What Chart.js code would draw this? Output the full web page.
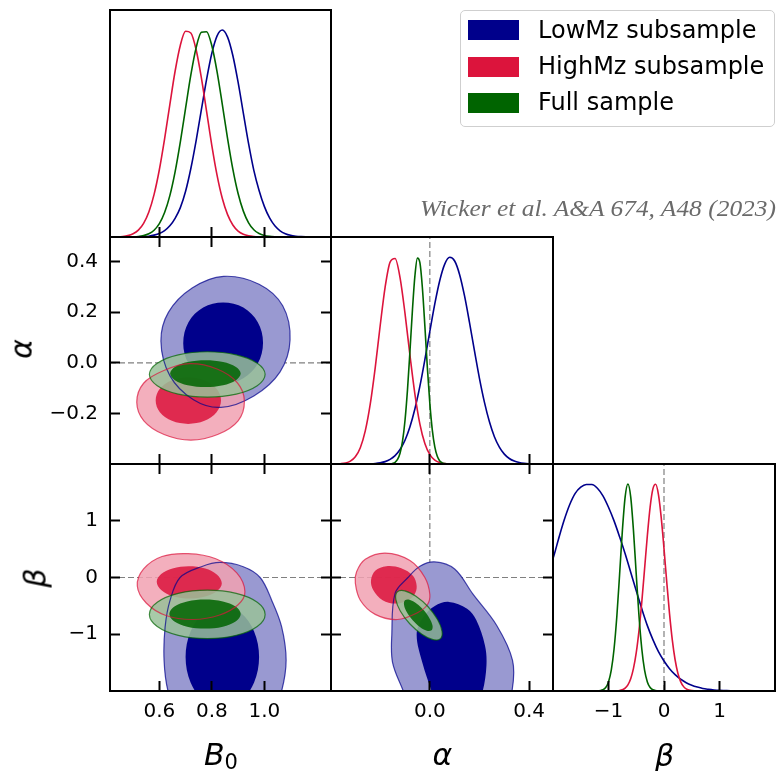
<!DOCTYPE html>
<html>
<head>
<meta charset="utf-8">
<title>B0, alpha, beta posteriors</title>
<script src="https://cdn.jsdelivr.net/npm/chart.js@4.4.1/dist/chart.umd.min.js"></script>
<style>
  html, body { margin: 0; padding: 0; background: #fff; }
  #figure { position: relative; width: 779px; height: 771px; overflow: hidden; font-family: "DejaVu Sans", sans-serif; }
  #figure canvas { position: absolute; left: 0; top: 0; }
  .xlab { position: absolute; font: italic 30px/30px "DejaVu Sans"; white-space: nowrap; transform: translateX(-50%); color: #000; }
  .ylab { position: absolute; font: italic 30px/30px "DejaVu Sans"; white-space: nowrap; transform-origin: 0 0; transform: rotate(-90deg) translate(-50%, -25.4px); color: #000; }
  .sub { font-style: normal; font-size: 21px; position: relative; top: 4px; }
  #legend { position: absolute; left: 460px; top: 10px; width: 315px; height: 117px; box-sizing: border-box; border: 1.5px solid #cfcfcf; border-radius: 5px; background: rgba(255,255,255,0.8); }
  .swatch { position: absolute; left: 7px; width: 51px; height: 20px; }
  .entry { position: absolute; left: 77px; font: 24px/24px "DejaVu Sans"; white-space: nowrap; color: #000; }
  #credit { position: absolute; left: 420px; top: 196px; font: italic 24px/24px "Liberation Serif", serif; color: #6a6a6a; white-space: nowrap; transform-origin: 0 0; }
</style>
</head>
<body>
<div id="figure">
  <div class="xlab" style="left:221px; top:739.6px;">B<span class="sub">0</span></div>
  <div class="xlab" style="left:442.5px; top:739.6px;">α</div>
  <div class="xlab" style="left:664.5px; top:740.6px;">β</div>
  <div class="ylab" style="left:31.5px; top:349px;">α</div>
  <div class="ylab" style="left:46px; top:577.5px;">β</div>
  <div id="legend"></div>
  <div id="credit">Wicker et al. A&amp;A 674, A48 (2023)</div>
</div>
<script>
// ---------------- series names ----------------
const seriesNames = ['LowMz subsample', 'HighMz subsample', 'Full sample'];

// ---------------- tick values ----------------
const b0Ticks = [0.6, 0.8, 1.0];
const alphaTicksX = [0.0, 0.4];
const alphaTicksY = [-0.2, 0.0, 0.2, 0.4];
const betaTicks = [-1, 0, 1];

// ---------------- 1D marginals (peak-normalised densities) ----------------
const b0Grid = [
  0.40, 0.42, 0.44, 0.46, 0.48, 0.50, 0.52, 0.54, 0.56, 0.58, 0.60,
  0.62, 0.64, 0.66, 0.68, 0.70, 0.72, 0.74, 0.76, 0.78, 0.80, 0.82,
  0.84, 0.86, 0.88, 0.90, 0.92, 0.94, 0.96, 0.98, 1.00, 1.02, 1.04,
  1.06, 1.08, 1.10, 1.12, 1.14, 1.16, 1.18, 1.20, 1.22, 1.24, 1.26];
const b0Low = [
  0, 0, 0, 0, 0.0002, 0.0005, 0.001, 0.002, 0.004, 0.009, 0.017,
  0.031, 0.054, 0.09, 0.142, 0.221, 0.331, 0.465, 0.614, 0.762, 0.888, 0.972,
  1.0, 0.966, 0.877, 0.748, 0.599, 0.451, 0.322, 0.225, 0.148, 0.092, 0.054,
  0.030, 0.016, 0.008, 0.004, 0.002, 0.001, 0.0004, 0.0001, 0, 0, 0];
const b0High = [
  0.0001, 0.0003, 0.001, 0.0027, 0.0067, 0.0154, 0.033, 0.066, 0.121, 0.206, 0.325,
  0.474, 0.640, 0.801, 0.927, 0.994, 0.986, 0.906, 0.770, 0.607, 0.442, 0.298,
  0.186, 0.108, 0.058, 0.0286, 0.0131, 0.0056, 0.0022, 0.0008, 0.0003, 0.0001, 0,
  0, 0, 0, 0, 0, 0, 0, 0, 0, 0, 0];
const b0Full = [
  0, 0, 0, 0.0001, 0.0004, 0.001, 0.0027, 0.0067, 0.0153, 0.0326, 0.0643,
  0.118, 0.200, 0.315, 0.460, 0.623, 0.783, 0.914, 0.989, 0.992, 0.924, 0.798,
  0.640, 0.476, 0.328, 0.210, 0.125, 0.0686, 0.035, 0.0166, 0.0073, 0.003, 0.0011,
  0.0004, 0.0001, 0, 0, 0, 0, 0, 0, 0, 0, 0];

const alphaGrid = [
  -0.40, -0.38, -0.36, -0.34, -0.32, -0.30, -0.28, -0.26, -0.24, -0.22,
  -0.20, -0.18, -0.16, -0.14, -0.12, -0.10, -0.08, -0.06, -0.04, -0.02,
  0.00, 0.02, 0.04, 0.06, 0.08, 0.10, 0.12, 0.14, 0.16, 0.18,
  0.20, 0.22, 0.24, 0.26, 0.28, 0.30, 0.32, 0.34, 0.36, 0.38,
  0.40, 0.42, 0.44, 0.46, 0.48, 0.50];
const alphaLow = [
  0, 0, 0, 0, 0, 0.0001, 0.0002, 0.0005, 0.0012, 0.0027,
  0.0057, 0.0115, 0.0221, 0.0403, 0.0699, 0.115, 0.180, 0.267, 0.376, 0.504,
  0.641, 0.774, 0.887, 0.966, 0.999, 0.981, 0.915, 0.811, 0.682, 0.545,
  0.413, 0.298, 0.204, 0.132, 0.0816, 0.0478, 0.0266, 0.014, 0.0071, 0.0034,
  0.0015, 0.0006, 0.0002, 0, 0, 0];
const alphaHigh = [
  0.0001, 0.0004, 0.0015, 0.0047, 0.0136, 0.0346, 0.0788, 0.160, 0.289, 0.465,
  0.668, 0.855, 0.976, 0.993, 0.901, 0.728, 0.525, 0.337, 0.193, 0.0986,
  0.0449, 0.0182, 0.0066, 0.0021, 0.0006, 0.0001, 0, 0, 0, 0,
  0, 0, 0, 0, 0, 0, 0, 0, 0, 0,
  0, 0, 0, 0, 0, 0];
const alphaFineGrid = [
  -0.40, -0.17, -0.16, -0.15, -0.14, -0.13, -0.12, -0.11, -0.10, -0.09,
  -0.08, -0.07, -0.06, -0.05, -0.04, -0.03, -0.02, -0.01, 0.00, 0.01,
  0.02, 0.03, 0.04, 0.05, 0.06, 0.07, 0.08, 0.50];
const alphaFull = [
  0, 0.0002, 0.0008, 0.0028, 0.0082, 0.0218, 0.0518, 0.110, 0.210, 0.358,
  0.546, 0.745, 0.910, 0.995, 0.973, 0.852, 0.667, 0.467, 0.293, 0.164,
  0.0826, 0.0371, 0.0149, 0.0054, 0.0017, 0.0005, 0.0001, 0];

const betaGrid = [
  -2.1, -2.0, -1.9, -1.8, -1.7, -1.6, -1.5, -1.4, -1.3, -1.2, -1.1,
  -1.0, -0.9, -0.8, -0.7, -0.6, -0.5, -0.4, -0.3, -0.2, -0.1,
  0.0, 0.1, 0.2, 0.3, 0.4, 0.5, 0.6, 0.7, 0.8, 0.9, 1.0,
  1.1, 1.2, 1.3, 1.4, 1.5, 1.6, 1.7, 1.8, 1.9, 2.0];
const betaLow = [
  0.575, 0.64, 0.735, 0.825, 0.9, 0.955, 0.985, 0.998, 0.998, 0.98, 0.943,
  0.888, 0.822, 0.745, 0.663, 0.574, 0.484, 0.397, 0.316, 0.248, 0.19,
  0.145, 0.108, 0.079, 0.057, 0.04, 0.028, 0.019, 0.012, 0.008, 0.005, 0.003,
  0.002, 0.001, 0.0005, 0.0002, 0, 0, 0, 0, 0, 0];
const betaFineGrid = [
  -2.1, -1.30, -1.25, -1.20, -1.15, -1.10, -1.05, -1.00, -0.95, -0.90, -0.85,
  -0.80, -0.75, -0.70, -0.65, -0.60, -0.55, -0.50, -0.45, -0.40, -0.35,
  -0.30, -0.25, -0.20, -0.15, -0.10, -0.05, 0.00, 0.05, 0.10, 0.15,
  0.20, 0.25, 0.30, 0.35, 0.40, 0.45, 0.50, 0.55, 0.60, 0.65, 2.0];
const betaHigh = [
  0, 0, 0, 0, 0, 0, 0, 0, 0, 0.0003, 0.001,
  0.0025, 0.0062, 0.0142, 0.030, 0.0592, 0.109, 0.185, 0.293, 0.431, 0.590,
  0.751, 0.889, 0.977, 0.999, 0.949, 0.838, 0.688, 0.525, 0.373, 0.246,
  0.151, 0.0859, 0.0455, 0.0224, 0.0103, 0.0044, 0.0017, 0.0006, 0.0002, 0, 0];
const betaFull = [
  0, 0, 0.0001, 0.0004, 0.0017, 0.0057, 0.0169, 0.044, 0.1007, 0.203, 0.360,
  0.563, 0.775, 0.938, 1.0, 0.938, 0.775, 0.563, 0.360, 0.203, 0.1007,
  0.044, 0.0169, 0.0057, 0.0017, 0.0004, 0.0001, 0, 0, 0, 0,
  0, 0, 0, 0, 0, 0, 0, 0, 0, 0, 0];

// ---------------- 2D credible regions (68% and 95% boundaries) ----------------
// B0 vs alpha
const lowB0Alpha95 = [[1.098,0.09],[1.07,0.225],[0.98,0.31],[0.845,0.341],[0.725,0.295],[0.635,0.2],[0.606,0.085],[0.64,-0.05],[0.73,-0.145],[0.835,-0.175],[0.96,-0.13],[1.06,-0.035]];
const lowB0Alpha68 = [[0.995,0.08],[0.975,0.16],[0.92,0.218],[0.843,0.238],[0.767,0.218],[0.711,0.16],[0.691,0.078],[0.711,-0.002],[0.767,-0.06],[0.843,-0.082],[0.92,-0.06],[0.975,-0.002]];
const highB0Alpha95 = [[0.924,-0.15],[0.897,-0.078],[0.82,-0.024],[0.715,-0.003],[0.617,-0.03],[0.54,-0.08],[0.514,-0.155],[0.541,-0.228],[0.618,-0.282],[0.72,-0.304],[0.822,-0.282],[0.9,-0.228]];
const highB0Alpha68 = [[0.835,-0.148],[0.818,-0.102],[0.772,-0.068],[0.71,-0.056],[0.648,-0.068],[0.602,-0.102],[0.586,-0.148],[0.602,-0.194],[0.648,-0.228],[0.71,-0.24],[0.772,-0.228],[0.818,-0.194]];
const fullB0Alpha95 = [[1.003,-0.045],[0.973,-0.001],[0.893,0.032],[0.783,0.044],[0.672,0.032],[0.592,-0.001],[0.562,-0.045],[0.592,-0.09],[0.672,-0.123],[0.783,-0.135],[0.893,-0.123],[0.973,-0.09]];
const fullB0Alpha68 = [[0.91,-0.042],[0.892,-0.016],[0.843,0.004],[0.776,0.011],[0.708,0.004],[0.659,-0.016],[0.641,-0.042],[0.659,-0.068],[0.708,-0.088],[0.776,-0.095],[0.843,-0.088],[0.892,-0.068]];

// B0 vs beta
const lowB0Beta95 = [[1.066,-2.0],[1.083,-1.46],[1.066,-0.87],[1.028,-0.4],[0.984,0.0],[0.92,0.19],[0.831,0.265],[0.76,0.19],[0.679,0.0],[0.641,-0.4],[0.622,-0.87],[0.618,-1.46],[0.633,-2.0],[0.68,-2.6],[0.85,-3.1],[1.02,-2.6]];
const lowB0Beta68 = [[0.98,-1.4],[0.961,-0.95],[0.91,-0.62],[0.84,-0.5],[0.77,-0.62],[0.719,-0.95],[0.70,-1.4],[0.719,-1.85],[0.77,-2.18],[0.84,-2.3],[0.91,-2.18],[0.961,-1.85]];
const highB0Beta95 = [[0.926,-0.25],[0.895,0.08],[0.815,0.33],[0.71,0.42],[0.61,0.37],[0.54,0.15],[0.516,-0.15],[0.55,-0.45],[0.625,-0.67],[0.73,-0.74],[0.83,-0.66],[0.9,-0.48]];
const highB0Beta68 = [[0.838,-0.1],[0.82,0.05],[0.775,0.16],[0.712,0.2],[0.65,0.16],[0.607,0.06],[0.59,-0.075],[0.607,-0.22],[0.652,-0.33],[0.716,-0.37],[0.778,-0.33],[0.822,-0.23]];
const fullB0Beta95 = [[1.003,-0.65],[0.973,-0.437],[0.893,-0.281],[0.783,-0.224],[0.672,-0.281],[0.592,-0.437],[0.562,-0.65],[0.592,-0.863],[0.672,-1.019],[0.783,-1.076],[0.893,-1.019],[0.973,-0.863]];
const fullB0Beta68 = [[0.91,-0.644],[0.892,-0.516],[0.842,-0.422],[0.774,-0.388],[0.706,-0.422],[0.656,-0.516],[0.638,-0.644],[0.656,-0.772],[0.706,-0.866],[0.774,-0.9],[0.842,-0.866],[0.892,-0.772]];

// alpha vs beta
const lowAlphaBeta95 = [[0.333,-1.46],[0.27,-0.85],[0.173,-0.29],[0.10,0.15],[0.02,0.275],[-0.04,0.2],[-0.088,0.0],[-0.14,-0.28],[-0.153,-0.99],[-0.15,-1.5],[-0.107,-2.0],[-0.06,-2.55],[0.05,-2.95],[0.17,-3.0],[0.29,-2.6],[0.331,-2.0]];
const lowAlphaBeta68 = [[0.228,-1.55],[0.222,-1.2],[0.187,-0.75],[0.15,-0.55],[0.077,-0.43],[0.02,-0.5],[-0.027,-0.7],[-0.053,-1.0],[-0.03,-1.5],[0.007,-2.0],[0.04,-2.45],[0.11,-2.6],[0.18,-2.4],[0.213,-2.0]];
const highAlphaBeta95 = [[0.0,-0.3],[-0.02,0.0],[-0.08,0.3],[-0.18,0.43],[-0.26,0.32],[-0.295,0.1],[-0.3,-0.1],[-0.28,-0.4],[-0.22,-0.65],[-0.13,-0.74],[-0.05,-0.62],[-0.01,-0.48]];
const highAlphaBeta68 = [[-0.053,-0.15],[-0.068,0.03],[-0.115,0.165],[-0.175,0.2],[-0.22,0.12],[-0.237,-0.05],[-0.228,-0.22],[-0.19,-0.4],[-0.14,-0.46],[-0.09,-0.41],[-0.062,-0.3]];
const fullAlphaBeta95 = [[0.043,-1.078],[0.049,-0.945],[0.031,-0.741],[-0.007,-0.515],[-0.056,-0.33],[-0.101,-0.235],[-0.131,-0.254],[-0.137,-0.385],[-0.119,-0.589],[-0.081,-0.815],[-0.032,-1.0],[0.013,-1.095]];
const fullAlphaBeta68 = [[0.007,-0.929],[0.011,-0.85],[-0.001,-0.721],[-0.024,-0.577],[-0.054,-0.457],[-0.082,-0.392],[-0.1,-0.4],[-0.104,-0.48],[-0.093,-0.609],[-0.069,-0.753],[-0.04,-0.873],[-0.012,-0.938]];

// ---------------- layout and styling ----------------
const EDGE_X = [110, 331, 553, 775];
const EDGE_Y = [10, 237, 464, 691];
const RANGE = { b0: [0.412, 1.254], alpha: [-0.398, 0.496], beta: [-2, 2], pdf: [0, 1.097] };
const LABEL_BAND = { left: 100, bottom: 60 };

const COLOURS = {
  low:  { line: '#00008b', dark: 'rgb(0,0,139)',          pale: 'rgb(153,153,209)',         edge: 'rgba(0,0,139,0.7)' },
  high: { line: '#dc143c', dark: 'rgba(220,20,60,0.85)',  pale: 'rgba(241,161,177,0.85)',   edge: 'rgba(220,20,60,0.7)' },
  full: { line: '#006400', dark: 'rgba(0,100,0,0.85)',    pale: 'rgba(153,193,153,0.85)',   edge: 'rgba(0,100,0,0.7)' }
};

Chart.defaults.font.family = 'DejaVu Sans';

// Close contour lines into smooth loops (same mechanism the radar chart uses).
const closedContours = {
  id: 'closedContours',
  afterDatasetsUpdate(chart) {
    chart.data.datasets.forEach((ds, i) => {
      if (!ds.closed) return;
      const line = chart.getDatasetMeta(i).dataset;
      line._loop = true;
      line._fullLoop = true;
      line._pointsUpdated = false;
      delete line._segments;
      line._path = undefined;
    });
  }
};

function fmt(dec) {
  return (v) => Number(v).toFixed(dec).replace('-', '\u2212');
}

function axis(position, range, ticks, showLabels, dec) {
  const horiz = position === 'top' || position === 'bottom';
  const size = showLabels ? (horiz ? LABEL_BAND.bottom : LABEL_BAND.left) : 0;
  return {
    type: 'linear', axis: horiz ? 'x' : 'y', position,
    min: range[0], max: range[1], bounds: 'data',
    afterFit(s) { if (horiz) s.height = size; else s.width = size; },
    afterBuildTicks(s) { s.ticks = ticks.map(v => ({ value: v })); },
    grid: { display: true, drawOnChartArea: false, drawTicks: true, tickLength: -10,
            tickWidth: 2, tickColor: '#000', z: 1 },
    border: { display: true, color: '#000', width: 2, z: 1 },
    ticks: { display: showLabels, autoSkip: false, maxRotation: 0, minRotation: 0,
             padding: horiz ? 19 : 22, color: '#000', z: 1,
             font: { family: 'DejaVu Sans', size: 20 }, callback: fmt(dec) }
  };
}

let layer = 0;
function pts(list) { return list.map(p => ({ x: p[0], y: p[1] })); }

function region(list, colour) {
  return { data: pts(list), closed: true, fill: 'shape', backgroundColor: colour,
           borderWidth: 0, pointRadius: 0, tension: 0.35, capBezierPoints: false, order: -(layer++) };
}
function outline(list, colour) {
  return { data: pts(list), closed: true, fill: false, borderColor: colour, borderWidth: 1.2,
           pointRadius: 0, tension: 0.35, capBezierPoints: false, order: -(layer++) };
}
function curve(xs, ys, colour) {
  return { data: xs.map((x, i) => ({ x: x, y: ys[i] })), fill: false, borderColor: colour,
           borderWidth: 1.6, pointRadius: 0, cubicInterpolationMode: 'monotone', order: -(layer++) };
}
function dashed(x0, y0, x1, y1) {
  return { data: [{ x: x0, y: y0 }, { x: x1, y: y1 }], fill: false, borderColor: '#808080',
           borderWidth: 1.2, borderDash: [6, 3], pointRadius: 0, order: -(layer++) };
}

const fig = document.getElementById('figure');

function panel(col, row, scales, datasets) {
  const cv = document.createElement('canvas');
  cv.width = 779; cv.height = 771;
  fig.insertBefore(cv, fig.firstChild);
  const leftBand = scales.y.ticks.display ? LABEL_BAND.left : 0;
  const bottomBand = scales.x.ticks.display ? LABEL_BAND.bottom : 0;
  new Chart(cv, {
    type: 'line',
    data: { datasets },
    options: {
      responsive: false, animation: false, events: [], devicePixelRatio: 1,
      layout: { padding: { left: EDGE_X[col] - leftBand, top: EDGE_Y[row],
                           right: 779 - EDGE_X[col + 1], bottom: 771 - EDGE_Y[row + 1] - bottomBand } },
      plugins: { legend: { display: false }, tooltip: { enabled: false } },
      scales
    },
    plugins: [closedContours]
  });
}

function twoD(sets) {
  const out = [];
  sets.forEach(([key, c95, c68]) => {
    out.push(region(c95, COLOURS[key].pale));
    out.push(region(c68, COLOURS[key].dark));
  });
  sets.forEach(([key, c95]) => out.push(outline(c95, COLOURS[key].edge)));
  return out;
}

// Row 1: B0 marginal
panel(0, 0, {
  x: axis('bottom', RANGE.b0, b0Ticks, false, 1),
  xTop: axis('top', RANGE.b0, [], false, 1),
  y: axis('left', RANGE.pdf, [], false, 1),
  yRight: axis('right', RANGE.pdf, [], false, 1)
}, [
  curve(b0Grid, b0Low, COLOURS.low.line),
  curve(b0Grid, b0High, COLOURS.high.line),
  curve(b0Grid, b0Full, COLOURS.full.line)
]);

// Row 2: B0 vs alpha, alpha marginal
panel(0, 1, {
  x: axis('bottom', RANGE.b0, b0Ticks, false, 1),
  xTop: axis('top', RANGE.b0, b0Ticks, false, 1),
  y: axis('left', RANGE.alpha, alphaTicksY, true, 1),
  yRight: axis('right', RANGE.alpha, alphaTicksY, false, 1)
}, [dashed(RANGE.b0[0], 0, RANGE.b0[1], 0)].concat(twoD([
  ['low', lowB0Alpha95, lowB0Alpha68],
  ['high', highB0Alpha95, highB0Alpha68],
  ['full', fullB0Alpha95, fullB0Alpha68]
])));

panel(1, 1, {
  x: axis('bottom', RANGE.alpha, alphaTicksX, false, 1),
  xTop: axis('top', RANGE.alpha, [], false, 1),
  y: axis('left', RANGE.pdf, [], false, 1),
  yRight: axis('right', RANGE.pdf, [], false, 1)
}, [
  dashed(0, RANGE.pdf[0], 0, RANGE.pdf[1]),
  curve(alphaGrid, alphaLow, COLOURS.low.line),
  curve(alphaGrid, alphaHigh, COLOURS.high.line),
  curve(alphaFineGrid, alphaFull, COLOURS.full.line)
]);

// Row 3: B0 vs beta, alpha vs beta, beta marginal
panel(0, 2, {
  x: axis('bottom', RANGE.b0, b0Ticks, true, 1),
  xTop: axis('top', RANGE.b0, b0Ticks, false, 1),
  y: axis('left', RANGE.beta, betaTicks, true, 0),
  yRight: axis('right', RANGE.beta, betaTicks, false, 0)
}, [dashed(RANGE.b0[0], 0, RANGE.b0[1], 0)].concat(twoD([
  ['low', lowB0Beta95, lowB0Beta68],
  ['high', highB0Beta95, highB0Beta68],
  ['full', fullB0Beta95, fullB0Beta68]
])));

panel(1, 2, {
  x: axis('bottom', RANGE.alpha, alphaTicksX, true, 1),
  xTop: axis('top', RANGE.alpha, alphaTicksX, false, 1),
  y: axis('left', RANGE.beta, betaTicks, false, 0),
  yRight: axis('right', RANGE.beta, betaTicks, false, 0)
}, [
  dashed(RANGE.alpha[0], 0, RANGE.alpha[1], 0),
  dashed(0, RANGE.beta[0], 0, RANGE.beta[1])
].concat(twoD([
  ['low', lowAlphaBeta95, lowAlphaBeta68],
  ['high', highAlphaBeta95, highAlphaBeta68],
  ['full', fullAlphaBeta95, fullAlphaBeta68]
])));

panel(2, 2, {
  x: axis('bottom', RANGE.beta, betaTicks, true, 0),
  xTop: axis('top', RANGE.beta, [], false, 0),
  y: axis('left', RANGE.pdf, [], false, 0),
  yRight: axis('right', RANGE.pdf, [], false, 0)
}, [
  dashed(0, RANGE.pdf[0], 0, RANGE.pdf[1]),
  curve(betaGrid, betaLow, COLOURS.low.line),
  curve(betaFineGrid, betaHigh, COLOURS.high.line),
  curve(betaFineGrid, betaFull, COLOURS.full.line)
]);

// ---------------- legend ----------------
const legend = document.getElementById('legend');
const legendColours = [COLOURS.low.line, COLOURS.high.line, COLOURS.full.line];
seriesNames.forEach((name, i) => {
  const sw = document.createElement('div');
  sw.className = 'swatch';
  sw.style.top = (9.2 + 36.3 * i) + 'px';
  sw.style.background = legendColours[i];
  legend.appendChild(sw);
  const tx = document.createElement('div');
  tx.className = 'entry';
  tx.style.top = (6.5 + 36.3 * i) + 'px';
  tx.textContent = name;
  legend.appendChild(tx);
});

// ---------------- credit line, fitted to its slot ----------------
const credit = document.getElementById('credit');
const cw = credit.getBoundingClientRect().width;
credit.style.transform = 'scaleX(' + (356 / cw) + ')';
</script>
</body>
</html>
